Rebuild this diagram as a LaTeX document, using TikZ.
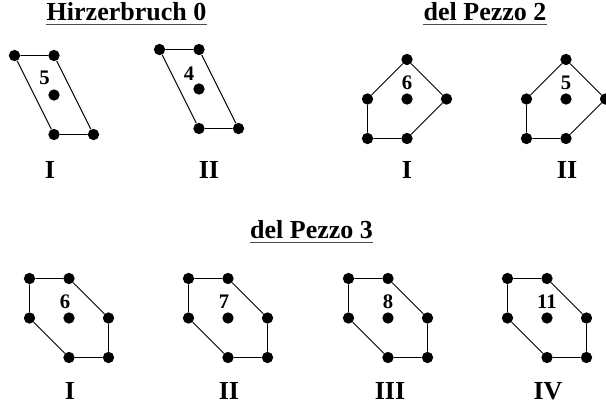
\documentclass[tikz,border=0pt]{standalone}
\usepackage{fontspec}
\setmainfont{Liberation Serif}
\usepackage{tikz}
\usetikzlibrary{calc}
\usetikzlibrary{positioning}

\tikzset{
	lattpt/.style={circle,fill=black,inner sep=0pt,minimum size=8.5pt},
	edge/.style={line width=0.7pt},
	numlabel/.style={inner sep=0pt,font=\fontsize{15.5}{18}\selectfont\bfseries},
	romlabel/.style={inner sep=0pt,font=\fontsize{19.5}{23}\selectfont\bfseries},
	head/.style={inner sep=0pt,anchor=base,font=\fontsize{19.5}{23}\selectfont\bfseries}
}

% Hirzebruch 0 polygon: name, centre, number, offset of the number
\newcommand{\hirz}[4]{
	\begin{scope}[shift={(#2)}]
		\node[lattpt] (#1a) at (-39.5,-39.5) {};
		\node[lattpt] (#1b) at (0,-39.5) {};
		\node[lattpt] (#1c) at (0,0) {};
		\node[lattpt] (#1d) at (0,39.5) {};
		\node[lattpt] (#1e) at (39.5,39.5) {};
	\end{scope}
	\draw[edge] (#1a) -- (#1b) -- (#1e) -- (#1d) -- (#1a);
	\node[numlabel] (#1n) at ($(#1c)+(#4)$) {#3};
}

% del Pezzo 2 polygon
\newcommand{\dptwo}[4]{
	\begin{scope}[shift={(#2)}]
		\node[lattpt] (#1a) at (0,-39.5) {};
		\node[lattpt] (#1b) at (39.5,0) {};
		\node[lattpt] (#1c) at (0,0) {};
		\node[lattpt] (#1d) at (0,39.5) {};
		\node[lattpt] (#1e) at (-39.5,39.5) {};
		\node[lattpt] (#1f) at (-39.5,0) {};
	\end{scope}
	\draw[edge] (#1a) -- (#1b) -- (#1d) -- (#1e) -- (#1f) -- (#1a);
	\node[numlabel] (#1n) at ($(#1c)+(#4)$) {#3};
}

% del Pezzo 3 polygon
\newcommand{\dpthree}[4]{
	\begin{scope}[shift={(#2)}]
		\node[lattpt] (#1a) at (-39.5,-39.5) {};
		\node[lattpt] (#1b) at (0,-39.5) {};
		\node[lattpt] (#1c) at (0,0) {};
		\node[lattpt] (#1d) at (39.5,0) {};
		\node[lattpt] (#1e) at (39.5,39.5) {};
		\node[lattpt] (#1f) at (0,39.5) {};
		\node[lattpt] (#1g) at (-39.5,0) {};
	\end{scope}
	\draw[edge] (#1a) -- (#1b) -- (#1d) -- (#1e) -- (#1f) -- (#1g) -- (#1a);
	\node[numlabel] (#1n) at ($(#1c)+(#4)$) {#3};
}

\begin{document}
\begin{tikzpicture}[x=0.75pt,y=-0.75pt]
	\useasboundingbox (0,0) rectangle (606,404);
	
	% headings
	\node[head] (hz) at (126.5,20) {Hirzerbruch 0};
	\node[head] (dp2) at (485,20) {del Pezzo 2};
	\node[head] (dp3) at (311.5,238) {del Pezzo 3};
	\foreach \t in {hz,dp2,dp3}
		\draw[line width=0.8pt,black!70] ([yshift=-3.5pt]\t.base west) -- ([yshift=-3.5pt]\t.base east);
	
	% top row
	\hirz{hA}{54,95}{5}{-9.5,-17}
	\hirz{hB}{199,89}{4}{-10,-15}
	\dptwo{pA}{407,99}{6}{0,-16}
	\dptwo{pB}{566,99}{5}{0,-16}
	\node[romlabel] (hAl) at (50,170) {I};
	\node[romlabel] (hBl) at (209,170) {II};
	\node[romlabel] (pAl) at (407,170) {I};
	\node[romlabel] (pBl) at (567,170) {II};
	
	% bottom row
	\dpthree{qA}{69,318}{6}{-4,-16}
	\dpthree{qB}{228,318}{7}{-4,-16}
	\dpthree{qC}{388,318}{8}{0,-16}
	\dpthree{qD}{547,318}{11}{0,-16}
	\node[romlabel] (qAl) at (70,391) {I};
	\node[romlabel] (qBl) at (229,391) {II};
	\node[romlabel] (qCl) at (390,391) {III};
	\node[romlabel] (qDl) at (548,391) {IV};
	
\end{tikzpicture}
\end{document}
